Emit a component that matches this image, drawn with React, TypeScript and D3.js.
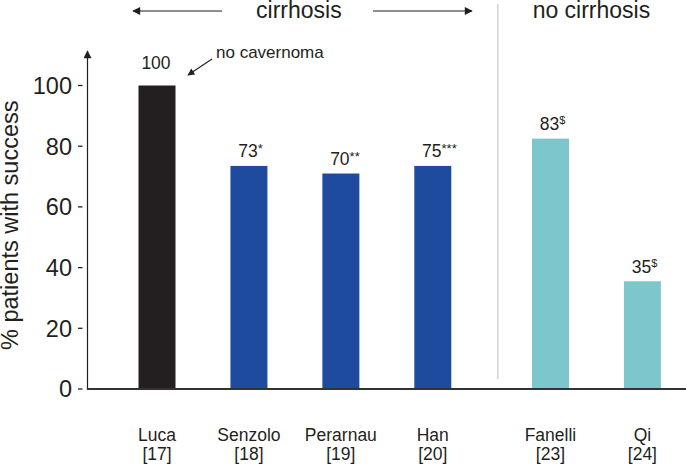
import React from "react";
import * as d3 from "d3";

const authors = ["Luca", "Senzolo", "Perarnau", "Han", "Fanelli", "Qi"];
const refs = ["[17]", "[18]", "[19]", "[20]", "[23]", "[24]"];
const groups = ["cirrhosis", "cirrhosis", "cirrhosis", "cirrhosis", "no cirrhosis", "no cirrhosis"];
const values = [100, 73.5, 71, 73.5, 82.5, 35.5];
const valueLabels = ["100", "73", "70", "75", "83", "35"];
const valueMarks = ["", "*", "**", "***", "$", "$"];
const yTicks = [0, 20, 40, 60, 80, 100];
const yTitle = "% patients with success";
const annotation = "no cavernoma";

const W = 686;
const H = 466;
const FONT = "'Liberation Sans', Arial, sans-serif";
const INK = "#231f20";
const colorOf = (i: number, g: string) =>
  g === "no cirrhosis" ? "#7dc7cc" : i === 0 ? "#231f20" : "#1f4b9e";

export default function App() {
  const groupGap = 0.28;
  const slot = authors.map((_, i) => i + (groups[i] === "no cirrhosis" ? groupGap : 0));
  const x = d3.scaleLinear().domain([0, 5 + groupGap]).range([157, 642.4]);
  const y = d3.scaleLinear().domain([0, 100]).range([389, 85.5]);
  const barW = 37;
  const axisX = 87.5;
  const cirrX = (x(slot[0]) + x(slot[3])) / 2 + 4;
  const noCirrX = (x(slot[4]) + x(slot[5])) / 2 - 5;

  return (
    <svg
      width={W}
      height={H}
      style={{ position: "absolute", left: 0, top: 0, background: "#fff" }}
      fontFamily={FONT}
    >
      <defs>
        <marker id="ah" viewBox="0 0 10 10" refX="9" refY="5" markerWidth="9" markerHeight="8" orient="auto-start-reverse" markerUnits="userSpaceOnUse">
          <path d="M0,0 L10,5 L0,10 z" fill={INK} />
        </marker>
        <marker id="ahs" viewBox="0 0 10 10" refX="9" refY="5" markerWidth="8" markerHeight="7" orient="auto" markerUnits="userSpaceOnUse">
          <path d="M0,0 L10,5 L0,10 z" fill={INK} />
        </marker>
      </defs>

      {/* header */}
      <line x1={222} y1={11} x2={133} y2={11} stroke={INK} strokeWidth={1.2} markerEnd="url(#ah)" />
      <line x1={373} y1={11} x2={472} y2={11} stroke={INK} strokeWidth={1.2} markerEnd="url(#ah)" />
      <text x={cirrX} y={18} textAnchor="middle" fontSize={23} fill={INK}>cirrhosis</text>
      <text x={noCirrX} y={18} textAnchor="middle" fontSize={23} fill={INK}>no cirrhosis</text>
      <line x1={497.8} y1={4} x2={497.8} y2={379} stroke="#d6d6d6" strokeWidth={1.6} />

      {/* bars */}
      {values.map((v, i) => (
        <rect
          key={authors[i]}
          x={x(slot[i]) - barW / 2}
          y={y(v)}
          width={barW}
          height={y(0) - y(v)}
          fill={colorOf(i, groups[i])}
        />
      ))}

      {/* value labels */}
      {values.map((v, i) => {
        const numW = valueLabels[i].length * 0.556 * 17.5;
        const gap = i === 0 ? 17 : 8.5;
        return (
          <text key={"l" + i} x={x(slot[i]) - numW / 2 - 1} y={y(v) - gap} fontSize={17.5} fill={INK}>
            {valueLabels[i]}
            {valueMarks[i] && (
              <tspan fontSize={valueMarks[i] === "$" ? 11 : 13} dy={valueMarks[i] === "$" ? -6 : -4}>
                {valueMarks[i]}
              </tspan>
            )}
          </text>
        );
      })}

      {/* annotation */}
      <text x={216} y={58} fontSize={17} fill={INK}>{annotation}</text>
      <line x1={212} y1={59} x2={188} y2={75} stroke={INK} strokeWidth={1.1} markerEnd="url(#ahs)" />

      {/* y axis */}
      <line x1={axisX} y1={y(0)} x2={axisX} y2={51} stroke={INK} strokeWidth={1.2} markerEnd="url(#ah)" />
      {yTicks.map((t) => (
        <g key={t}>
          <line x1={78} x2={82.5} y1={y(t)} y2={y(t)} stroke={INK} strokeWidth={1.3} />
          <text x={72} y={y(t)} dy="0.36em" textAnchor="end" fontSize={23.5} fill={INK}>{t}</text>
        </g>
      ))}
      <text
        transform={`translate(18,${(y(0) + y(100)) / 2 - 12}) rotate(-90)`}
        textAnchor="middle"
        fontSize={23.5}
        fill={INK}
      >
        {yTitle}
      </text>

      {/* x axis */}
      <line x1={axisX - 0.6} x2={W} y1={389} y2={389} stroke="#333" strokeWidth={2} />
      {authors.map((a, i) => (
        <g key={"x" + a}>
          <text x={x(slot[i])} y={441} textAnchor="middle" fontSize={17.5} fill={INK}>{a}</text>
          <text x={x(slot[i])} y={460} textAnchor="middle" fontSize={17.5} fill={INK}>{refs[i]}</text>
        </g>
      ))}
    </svg>
  );
}
